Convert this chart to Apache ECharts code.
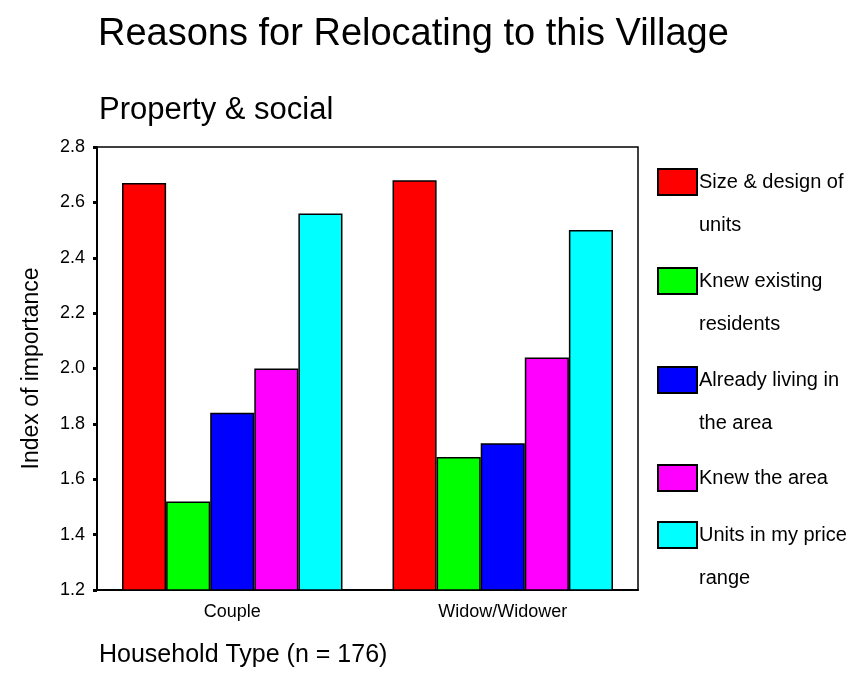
<!DOCTYPE html>
<html><head><meta charset="utf-8">
<script src="https://cdn.jsdelivr.net/npm/echarts@6/dist/echarts.min.js"></script>
<style>html,body{margin:0;padding:0;background:#fff}#c{width:855px;height:690px}</style>
</head><body><div id="c"></div>
<script>
const categories = ['Couple', 'Widow/Widower'];
const seriesNames = ['Size & design of units', 'Knew existing residents', 'Already living in the area', 'Knew the area', 'Units in my price range'];
const legendLine1 = ['Size & design of', 'Knew existing', 'Already living in', 'Knew the area', 'Units in my price'];
const legendLine2 = ['units', 'residents', 'the area', '', 'range'];
const sizeDesign = [2.67, 2.68];
const knewResidents = [1.52, 1.68];
const alreadyLiving = [1.84, 1.73];
const knewArea = [2.00, 2.04];
const priceRange = [2.56, 2.50];
const colors = ['#ff0000', '#00ff00', '#0000ff', '#ff00ff', '#00ffff'];
const values = [sizeDesign, knewResidents, alreadyLiving, knewArea, priceRange];

const font = '"Liberation Sans", Arial, sans-serif';
const legendTops = [168, 267, 366, 464, 521];
const chart = echarts.init(document.getElementById('c'));
const legends = seriesNames.map((n, i) => ({
  data: [{ name: n, icon: 'rect' }], left: 657, top: legendTops[i], orient: 'vertical',
  padding: 0, itemWidth: 39, itemHeight: 26, itemGap: 0, selectedMode: false,
  formatter: () => legendLine1[i],
  textStyle: { fontFamily: font, fontSize: 20, color: '#000', padding: [0, 0, 0, -3] }
}));
const secondLines = legendLine2.map((t, i) => t ? ({
  type: 'text', left: 699, top: legendTops[i] + 47,
  style: { text: t, font: '20px ' + font, fill: '#000' }
}) : null).filter(Boolean);

chart.setOption({
  animation: false,
  color: colors,
  title: [
    { text: 'Reasons for Relocating to this Village', left: 93, top: 11,
      textStyle: { fontFamily: font, fontSize: 38, fontWeight: 'normal', color: '#000' } },
    { text: 'Property & social', left: 94, top: 90,
      textStyle: { fontFamily: font, fontSize: 31, fontWeight: 'normal', color: '#000' } },
    { text: 'Household Type (n = 176)', left: 94, top: 638,
      textStyle: { fontFamily: font, fontSize: 25, fontWeight: 'normal', color: '#000' } }
  ],
  legend: legends,
  graphic: secondLines,
  grid: { left: 97, right: 217, top: 147, bottom: 100, show: true, borderColor: '#000', borderWidth: 1.5, backgroundColor: 'transparent' },
  xAxis: {
    type: 'category', data: categories,
    axisLine: { lineStyle: { color: '#000', width: 2 } },
    axisTick: { alignWithLabel: true, length: 4, lineStyle: { color: '#000', width: 3 } },
    axisLabel: { fontFamily: font, fontSize: 18, color: '#000', margin: 13 }
  },
  yAxis: {
    type: 'value', min: 1.2, max: 2.8, interval: 0.2,
    name: 'Index of importance', nameLocation: 'middle', nameGap: 54,
    nameTextStyle: { fontFamily: font, fontSize: 23, color: '#000' },
    splitLine: { show: false },
    axisLine: { show: true, lineStyle: { color: '#000', width: 2 } },
    axisTick: { show: true, length: 4, lineStyle: { color: '#000', width: 3 } },
    axisLabel: { fontFamily: font, fontSize: 18, color: '#000', margin: 12, formatter: v => v.toFixed(1) }
  },
  series: seriesNames.map((n, i) => ({
    name: n, type: 'bar', data: values[i],
    barGap: '0%', barCategoryGap: '18.5%',
    itemStyle: { color: colors[i], borderColor: '#000', borderWidth: 1.5 }
  }))
});
</script></body></html>
